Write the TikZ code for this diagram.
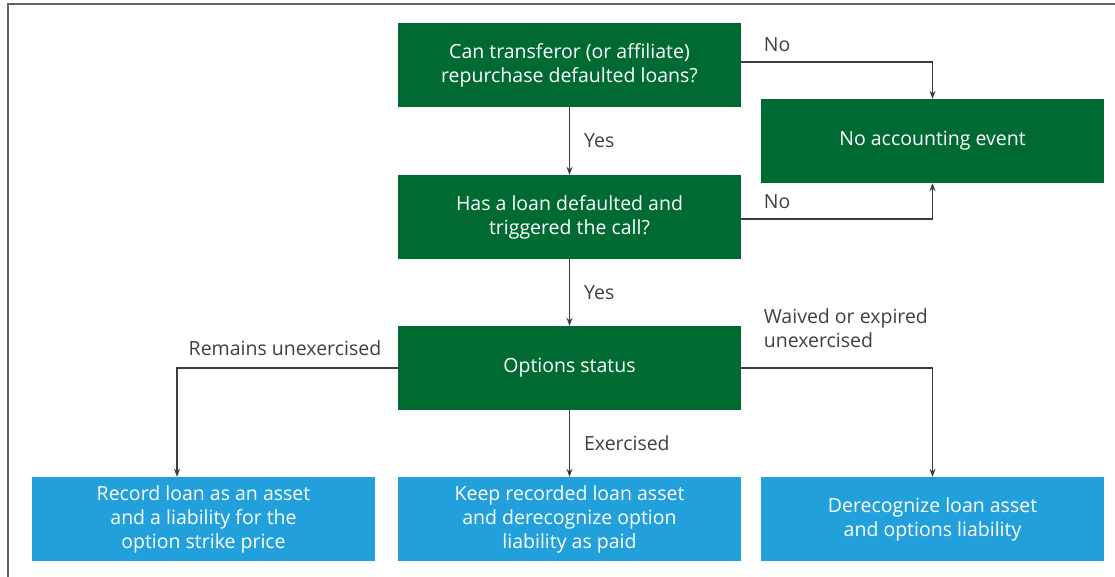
\documentclass[tikz,border=0pt]{standalone}
\usepackage{fontspec}
\setmainfont{Open Sans}
\usetikzlibrary{arrows.meta}
\definecolor{dkgreen}{RGB}{0,106,51}
\definecolor{ltblue}{RGB}{33,160,219}
\definecolor{linegray}{RGB}{60,60,62}
\definecolor{framegray}{RGB}{100,98,98}
\definecolor{lblgray}{RGB}{64,64,66}

\begin{document}
\begin{tikzpicture}[x=1pt,y=-1pt,
    font=\fontsize{19.5}{24}\selectfont,
    box/.style={minimum width=343,minimum height=84,align=center,inner sep=0,text=white},
    greenbox/.style={box,fill=dkgreen},
    bluebox/.style={box,fill=ltblue},
    lbl/.style={text=lblgray,align=left,inner sep=2}]
\useasboundingbox (0,0) rectangle (1115,577);
\draw[framegray,line width=1.5] (8,577) -- (8,4) -- (1115,4);

\begin{scope}[every node/.style={greenbox}]
    \node (q1) at (569.5,65) {Can transferor (or affiliate)\\repurchase defaulted loans?};
    \node (noev) at (932.5,141) {No accounting event};
    \node (q2) at (569.5,217) {Has a loan defaulted and\\triggered the call?};
    \node (status) at (569.5,368) {Options status};
\end{scope}

\begin{scope}[every node/.style={bluebox}]
    \node (rec) at (203.5,519) {Record loan as an asset\\and a liability for the\\option strike price};
    \node (keep) at (569.5,519) {Keep recorded loan asset\\and derecognize option\\liability as paid};
    \node (derec) at (932.5,519) {Derecognize loan asset\\and options liability};
\end{scope}
\coordinate (recin) at ([xshift=-26.5]rec.north);

\begin{scope}[>={Stealth[length=8pt,width=6pt]},
              every path/.style={draw=linegray,line width=1.2}]
    \path[->] ([yshift=3]q1.east) -| node[lbl,pos=0,anchor=south west,xshift=20,yshift=8] {No} (noev.north);
    \path[->] ([yshift=-2]q2.east) -| node[lbl,pos=0,anchor=south west,xshift=20,yshift=8] {No} (noev.south);
    \path[->] (q1.south) -- node[lbl,right,xshift=12] {Yes} (q2.north);
    \path[->] (q2.south) -- node[lbl,right,xshift=12] {Yes} (status.north);
    \path[->] (status.west) -| node[lbl,pos=0,anchor=south east,xshift=-14,yshift=10] {Remains unexercised} (recin);
    \path[->] (status.east) -| node[lbl,pos=0,anchor=south west,xshift=20,yshift=18] {Waived or expired\\unexercised} (derec.north);
    \path[->] (status.south) -- node[lbl,right,xshift=12] {Exercised} (keep.north);
\end{scope}
\end{tikzpicture}
\end{document}
